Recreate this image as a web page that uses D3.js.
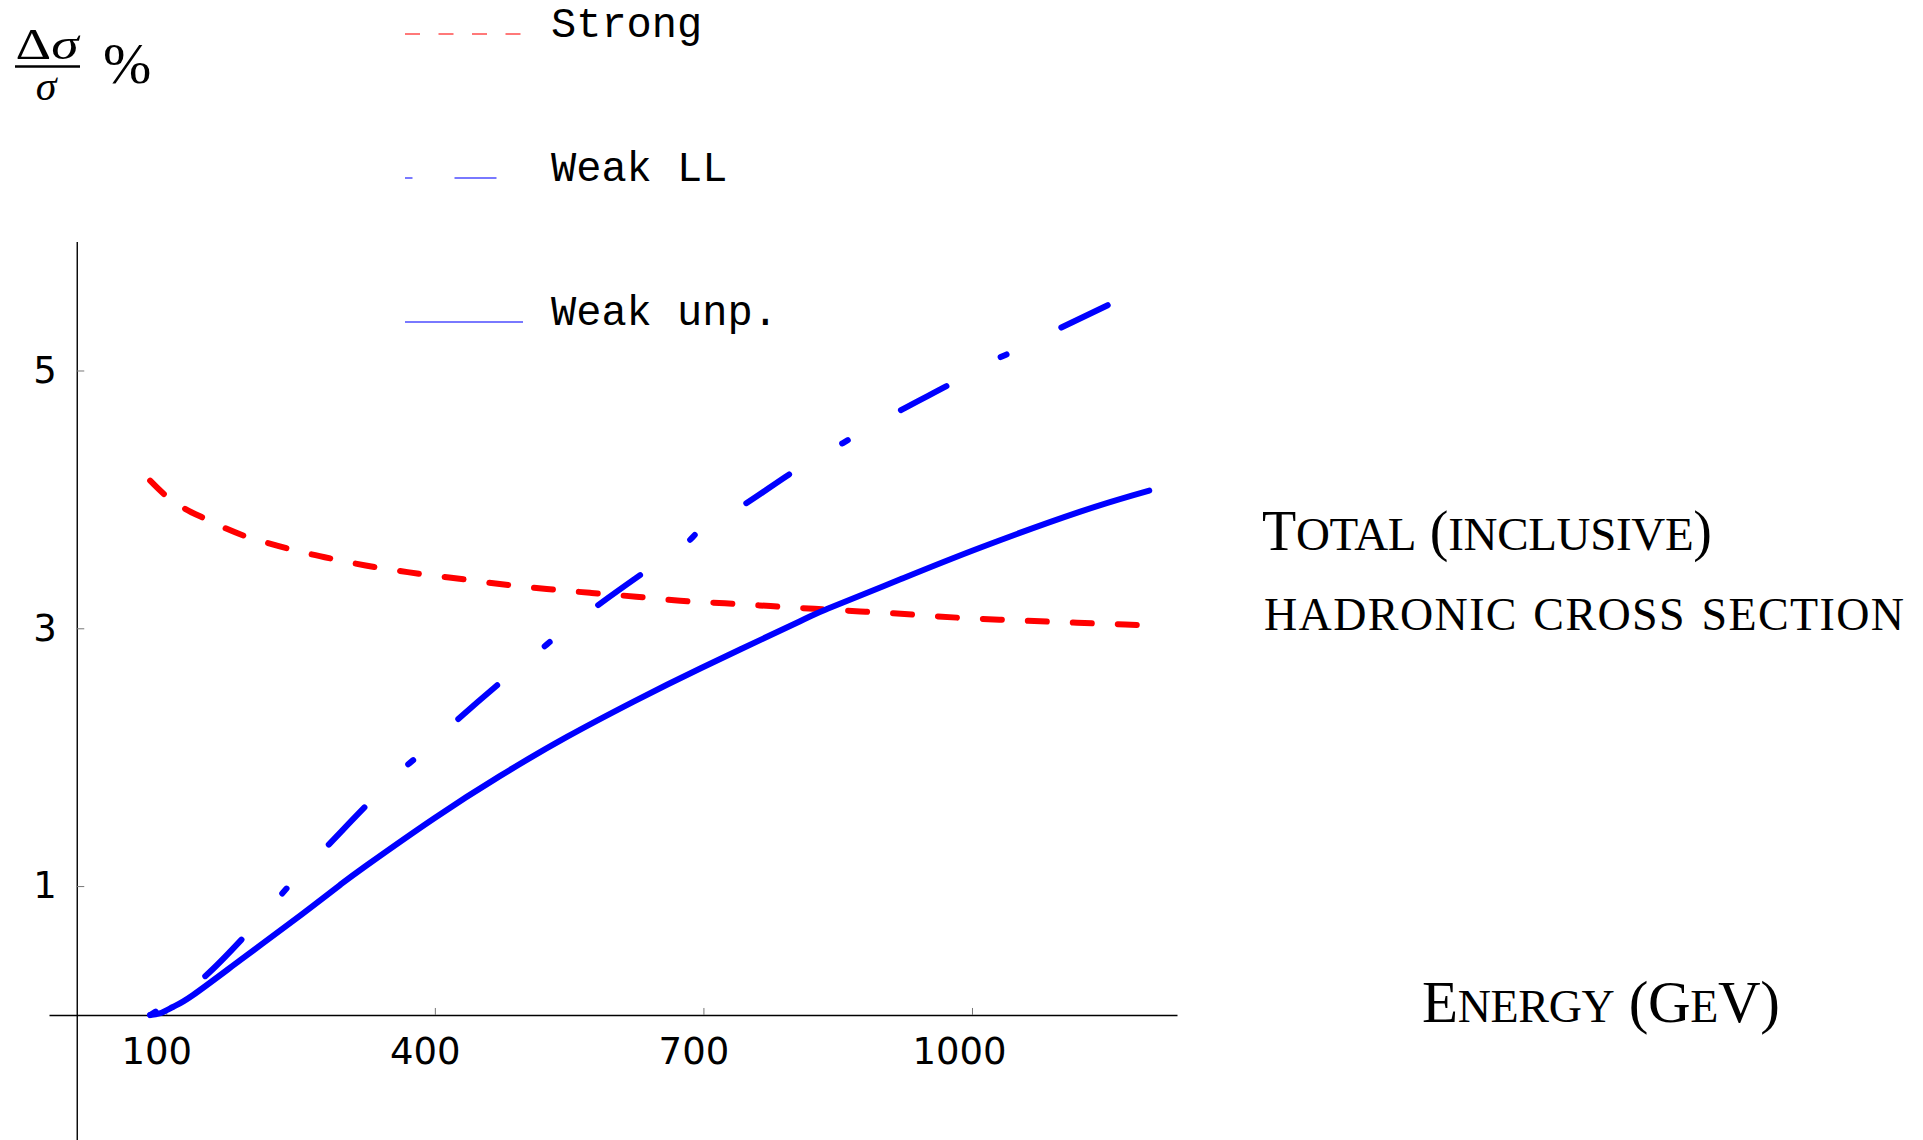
<!DOCTYPE html>
<html>
<head>
<meta charset="utf-8">
<script src="https://cdn.jsdelivr.net/npm/d3@7"></script>
<style>
body { margin: 0; background: #fff; }
</style>
</head>
<body>
<div id="fig"></div>
<script>
const fig_width = 1923
const fig_height = 1140

// energy in GeV, correction in percent
const strong_energy = [82, 100, 120, 145, 166, 190, 212, 239, 262, 288, 310, 337, 361, 387, 410, 438, 460, 488, 525, 575, 625, 674, 724, 775, 824, 875, 912, 990, 1041, 1091, 1141, 1200]
const strong_value = [4.145, 4.026, 3.931, 3.845, 3.776, 3.710, 3.664, 3.613, 3.574, 3.535, 3.504, 3.470, 3.445, 3.418, 3.399, 3.375, 3.354, 3.331, 3.305, 3.274, 3.245, 3.214, 3.194, 3.172, 3.151, 3.131, 3.116, 3.080, 3.064, 3.050, 3.037, 3.022]

const weak_ll_energy = [82, 142, 187, 228, 237, 280, 324, 368, 379, 425, 473, 520, 532, 581, 633, 682, 694, 746, 801, 852, 868, 919, 976, 1029, 1043, 1098, 1156]
const weak_ll_value = [0, 0.292, 0.607, 0.931, 1.001, 1.311, 1.629, 1.932, 1.996, 2.289, 2.578, 2.845, 2.915, 3.173, 3.431, 3.665, 3.749, 3.962, 4.217, 4.422, 4.486, 4.686, 4.895, 5.095, 5.138, 5.327, 5.521]

const weak_unp_energy = [82, 93, 108, 130, 183, 239, 294, 324, 399, 473, 548, 622, 697, 808, 840, 920, 1009, 1121, 1198]
const weak_unp_value = [0, 0.013, 0.064, 0.155, 0.427, 0.716, 1.008, 1.162, 1.525, 1.855, 2.159, 2.431, 2.69, 3.055, 3.155, 3.38, 3.625, 3.905, 4.068]

const x_ticks = [100, 400, 700, 1000]
const y_ticks = [1, 3, 5]

const legend_labels = ['Strong', 'Weak LL', 'Weak unp.']
const side_title = ['Total (inclusive)', 'hadronic cross section']
const x_title = 'Energy (GeV)'

const series = [
    {name: legend_labels[0], energy: strong_energy, value: strong_value, colour: '#ff0000', dash: '19,26', key: '15,18.5', curve: d3.curveMonotoneX},
    {name: legend_labels[1], energy: weak_ll_energy, value: weak_ll_value, colour: '#0000ff', dash: '6.5,61,51.5,61.5', key: '7.5,42,42,60', curve: d3.curveMonotoneX},
    {name: legend_labels[2], energy: weak_unp_energy, value: weak_unp_value, colour: '#0000ff', dash: null, key: null, curve: d3.curveNatural}
]

let x = d3.scaleLinear().domain([-31, 1229]).range([49, 1177])
let y = d3.scaleLinear().domain([-0.97, 6]).range([1140, 241.6])

let fig = d3.select('#fig')
    .append('svg')
    .attr('width', fig_width)
    .attr('height', fig_height)
    .style('display', 'block')

// axes cross at (0, 0)
let xAxis = fig.append('g')
    .attr('transform', `translate(0,${y(0)})`)
    .call(d3.axisBottom(x).tickValues(x_ticks).tickFormat(d3.format('d')).tickSize(-7).tickSizeOuter(0))
let yAxis = fig.append('g')
    .attr('transform', `translate(${x(0)},0)`)
    .call(d3.axisLeft(y).tickValues(y_ticks).tickFormat(d3.format('d')).tickSize(-7.5).tickSizeOuter(0).tickPadding(20))

for (let ax of [xAxis, yAxis]) {
    ax.select('.domain').attr('stroke', '#000').attr('stroke-width', 1.4)
    ax.selectAll('.tick line').attr('stroke', '#777').attr('stroke-width', 1)
    ax.selectAll('.tick text')
        .attr('fill', '#000')
        .style('font-family', '"DejaVu Sans", sans-serif')
        .style('font-size', '37px')
}
xAxis.selectAll('.tick text')
    .attr('dy', null)
    .attr('y', 49)
    .attr('x', d => d >= 1000 ? -13 : -10)

fig.selectAll('path.curve')
    .data(series)
    .join('path')
    .attr('class', 'curve')
    .attr('d', s => d3.line().x(d => x(d[0])).y(d => y(d[1])).curve(s.curve)(d3.zip(s.energy, s.value)))
    .attr('fill', 'none')
    .attr('stroke', s => s.colour)
    .attr('stroke-width', 6)
    .attr('stroke-linecap', 'round')
    .attr('stroke-linejoin', 'round')
    .attr('stroke-dasharray', s => s.dash)

// legend at the top
let legend = fig.selectAll('g.key')
    .data(series)
    .join('g')
    .attr('class', 'key')
    .attr('transform', (s, i) => `translate(0,${34 + i * 144})`)
legend.append('line')
    .attr('x1', 405).attr('x2', 523)
    .attr('stroke', s => s.colour)
    .attr('stroke-opacity', 0.7)
    .attr('stroke-width', 1.6)
    .attr('stroke-dasharray', s => s.key)
legend.append('text')
    .attr('x', 551)
    .attr('y', 3)
    .text(s => s.name)
    .style('font-family', '"Courier New", "Nimbus Mono PS", FreeMono, "Liberation Mono", monospace')
    .style('font-size', '42px')

// y label: Δσ/σ %
let ylab = fig.append('g')
    .style('font-family', '"Liberation Serif", "DejaVu Serif", serif')
let num = ylab.append('text').attr('x', 47).attr('y', 59).attr('text-anchor', 'middle').style('font-size', '44px')
    .attr('textLength', 63).attr('lengthAdjust', 'spacingAndGlyphs')
num.append('tspan').text('Δ')
num.append('tspan').style('font-style', 'italic').text('σ')
ylab.append('line').attr('x1', 15).attr('x2', 80).attr('y1', 66.5).attr('y2', 66.5).attr('stroke', '#000').attr('stroke-width', 2.4)
ylab.append('text').attr('x', 46).attr('y', 100).attr('text-anchor', 'middle').style('font-size', '42px').style('font-style', 'italic').text('σ')
ylab.append('text').attr('x', 103).attr('y', 83).style('font-size', '58px').text('%')

// small-caps titles: capitals at big size, lowercase letters as smaller capitals
function smallCaps(sel, str, big, small) {
    let runs = []
    for (let ch of str) {
        let low = ch !== ch.toUpperCase()
        let size = low ? small : big
        if (runs.length && runs[runs.length - 1].size === size) runs[runs.length - 1].txt += ch.toUpperCase()
        else runs.push({size: size, txt: ch.toUpperCase()})
    }
    runs.forEach(r => sel.append('tspan').style('font-size', r.size + 'px').text(r.txt))
}

let titles = [
    {txt: side_title[0], x: 1262, y: 550, big: 56, small: 47, w: 450},
    {txt: side_title[1], x: 1264, y: 630, big: 56, small: 46, w: 640},
    {txt: x_title, x: 1422, y: 1022, big: 59, small: 46, w: 358}
]
titles.forEach(t => {
    let el = fig.append('text')
        .attr('x', t.x)
        .attr('y', t.y)
        .attr('fill', '#000')
        .style('font-family', '"Liberation Serif", "DejaVu Serif", serif')
    smallCaps(el, t.txt, t.big, t.small)
    el.attr('textLength', t.w).attr('lengthAdjust', 'spacing')
})
</script>
</body>
</html>
